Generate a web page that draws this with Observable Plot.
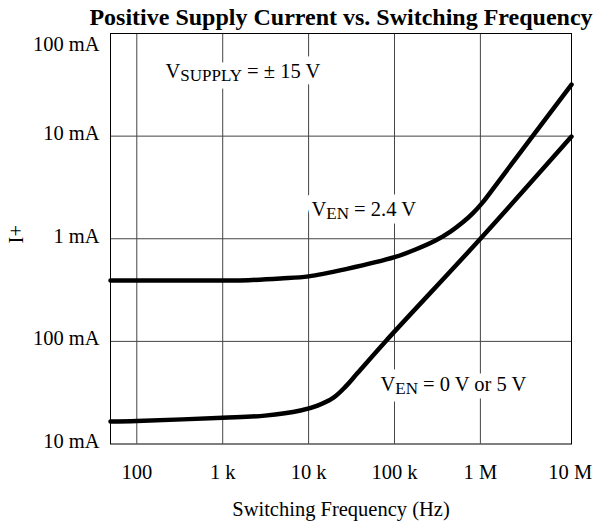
<!DOCTYPE html>
<html>
<head>
<meta charset="utf-8">
<script src="https://cdn.jsdelivr.net/npm/d3@7"></script>
<script src="https://cdn.jsdelivr.net/npm/@observablehq/plot@0.6"></script>
<style>
  html, body { margin: 0; padding: 0; background: #fff; }
</style>
</head>
<body>
<div id="chart"></div>
<script>
// ---- Data (frequency in Hz, current in mA) ----
const freqEn24 = [49.4, 1000, 2000, 4700, 10000, 28000, 100000, 175600, 300000, 448600, 619000, 809000, 1058000, 1499000, 3760000, 11500000];
const currentEn24 = [0.392, 0.392, 0.395, 0.41, 0.43, 0.509, 0.661, 0.785, 0.96, 1.175, 1.44, 1.76, 2.25, 3.3, 9.2, 31.8];

const freqEn0 = [49.4, 100, 1000, 3100, 8050, 12700, 19500, 26900, 37100, 78600, 1000000, 11500000];
const currentEn0 = [0.0166, 0.0168, 0.018, 0.0189, 0.0212, 0.0237, 0.0283, 0.0362, 0.0491, 0.0999, 1.0, 9.9];

const xTicks = [100, 1e3, 1e4, 1e5, 1e6];
const xTickLabels = ["100", "1 k", "10 k", "100 k", "1 M"];
const xLastTick = [1e7];
const xLastTickLabel = ["10 M"];

const yTicks = [10, 1, 0.1, 0.01];
const yTickLabels = ["10 mA", "1 mA", "100 mA", "10 mA"];
const yTopTick = [100];
const yTopTickLabel = ["100 mA"];

const xGrid = [100, 1e3, 1e4, 1e5, 1e6];
const yGrid = [10, 1, 0.1];

const annotationText = ["V_{SUPPLY} = ± 15 V", "V_{EN} = 2.4 V", "V_{EN} = 0 V or 5 V"];
const annotationFreq = [216, 10800, 68700];
const annotationCurrent = [37, 1.68, 0.0331];

const titleText = "Positive Supply Current vs. Switching Frequency";
const xLabel = "Switching Frequency (Hz)";
const yLabel = "I+";

// ---- Build tables ----
const seriesEn24 = freqEn24.map((f, i) => ({f, I: currentEn24[i]}));
const seriesEn0 = freqEn0.map((f, i) => ({f, I: currentEn0[i]}));
const annotations = annotationText.map((t, i) => ({t, f: annotationFreq[i], I: annotationCurrent[i]}));

const FONT = "'Liberation Serif', 'Times New Roman', Times, serif";
const FS = 20.5;

const annoOpts = {x: "f", y: "I", text: "t", textAnchor: "start", lineAnchor: "bottom", fontSize: FS, fontFamily: FONT};

const chart = Plot.plot({
  width: 595,
  height: 527,
  marginTop: 33,
  marginBottom: 83.5,
  marginLeft: 110,
  marginRight: 24,
  style: {fontFamily: FONT, fontSize: FS + "px", background: "white", color: "black"},
  x: {type: "log", domain: [49.4, 1.15e7], axis: null},
  y: {type: "log", domain: [0.01, 100], axis: null},
  marks: [
    Plot.ruleX(xGrid, {stroke: "#444", strokeWidth: 1}),
    Plot.ruleY(yGrid, {stroke: "#444", strokeWidth: 1}),
    // white backing behind the annotations
    Plot.text(annotations, {...annoOpts, fill: "white", stroke: "white", strokeWidth: 15, strokeLinejoin: "round"}),
    Plot.text(annotations, {...annoOpts, fill: "black"}),
    Plot.line(seriesEn24, {x: "f", y: "I", stroke: "black", strokeWidth: 4.5, curve: "catmull-rom"}),
    Plot.line(seriesEn0, {x: "f", y: "I", stroke: "black", strokeWidth: 4.5, curve: "catmull-rom"}),
    Plot.frame({stroke: "black", strokeWidth: 1}),
    Plot.axisX(xTicks, {anchor: "bottom", tickSize: 0, tickPadding: 20, label: null,
      tickFormat: (d) => xTickLabels[xTicks.indexOf(d)], fontSize: FS}),
    Plot.axisX(xLastTick, {anchor: "bottom", tickSize: 0, tickPadding: 20, label: null, dx: 4,
      tickFormat: (d) => xLastTickLabel[xLastTick.indexOf(d)], fontSize: FS}),
    Plot.axisY(yTicks, {anchor: "left", tickSize: 0, tickPadding: 11, label: null, dy: -2.5,
      tickFormat: (d) => yTickLabels[yTicks.indexOf(d)], fontSize: FS}),
    Plot.axisY(yTopTick, {anchor: "left", tickSize: 0, tickPadding: 11, label: null, dy: 11,
      tickFormat: (d) => yTopTickLabel[yTopTick.indexOf(d)], fontSize: FS}),
    Plot.text([titleText], {frameAnchor: "top", dy: -9, lineAnchor: "bottom", text: d => d,
      fontSize: 24, fontWeight: "bold", fontFamily: FONT, fill: "black"}),
    Plot.text([xLabel], {frameAnchor: "bottom", dy: 71.5, lineAnchor: "bottom", text: d => d,
      fontSize: FS, fontFamily: FONT, fill: "black"}),
    Plot.text([yLabel], {frameAnchor: "left", dx: -88, dy: -4.5, rotate: -90, lineAnchor: "bottom",
      textAnchor: "middle", text: d => d, fontSize: FS, fontFamily: FONT, fill: "black"})
  ]
});

// Render "_{...}" as subscripts
const SVGNS = "http://www.w3.org/2000/svg";
chart.querySelectorAll("text").forEach((t) => {
  const s = t.textContent;
  if (!s.includes("_{")) return;
  t.textContent = "";
  const parts = s.split(/(_\{[^}]*\})/).filter((p) => p.length);
  let shifted = false;
  parts.forEach((p) => {
    const sp = document.createElementNS(SVGNS, "tspan");
    if (p.startsWith("_{")) {
      sp.textContent = p.slice(2, -1);
      sp.setAttribute("font-size", "17px");
      sp.setAttribute("dy", "3.5");
      shifted = true;
    } else {
      sp.textContent = p;
      if (shifted) { sp.setAttribute("dy", "-3.5"); shifted = false; }
    }
    t.appendChild(sp);
  });
});

document.getElementById("chart").appendChild(chart);
</script>
</body>
</html>
